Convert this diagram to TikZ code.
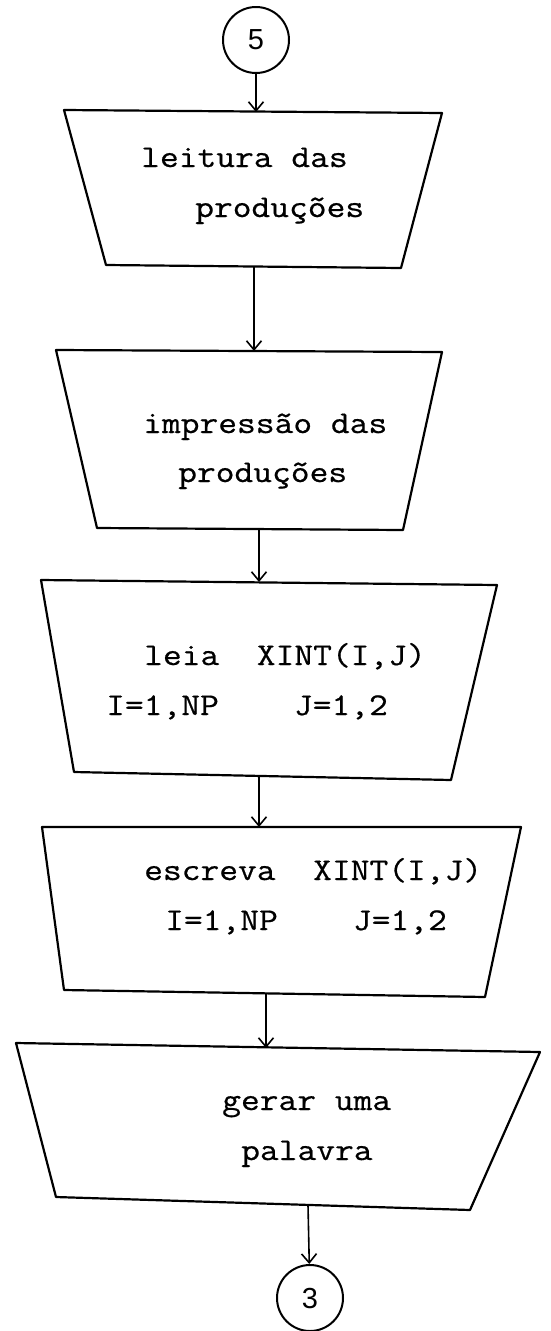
\documentclass[tikz,border=0pt]{standalone}
\usepackage{fontspec}
\setmonofont[FakeStretch=1.15,FakeBold=0.6]{Latin Modern Mono}
\newfontfamily\digitfont{Liberation Sans}
\usetikzlibrary{arrows.meta}
\begin{document}
\begin{tikzpicture}[x=1pt,y=-1pt,
  box/.style={line width=2.2pt, line join=round},
  conn/.style={line width=1.6pt, -{Straight Barb[length=9pt,width=15pt]}},
  txt/.style={anchor=base west, inner sep=0pt, font=\ttfamily\fontsize{31.7}{38}\selectfont},
  connector/.style={circle, draw, line width=2pt, minimum size=66pt, inner sep=0pt,
    font=\digitfont\fontsize{29}{30}\selectfont}]
\useasboundingbox (0,0) rectangle (551,1331);

% entry connector
\node[connector] (c5) at (256,40) {5};

% reading of productions
\coordinate (b1tl) at (64,110);  \coordinate (b1tr) at (442,113);
\coordinate (b1br) at (401,268); \coordinate (b1bl) at (106,265);
\draw[box] (b1tl) -- (b1tr) -- (b1br) -- (b1bl) -- cycle;
\node[txt] (t1a) at (141,167) {leitura das};
\node[txt] (t1b) at (195,217) {produções};
\coordinate (b1in) at (256,112);
\coordinate (b1out) at (254,267);

% printing of productions
\coordinate (b2tl) at (56,350);  \coordinate (b2tr) at (442,352);
\coordinate (b2br) at (403,530); \coordinate (b2bl) at (97,528);
\draw[box] (b2tl) -- (b2tr) -- (b2br) -- (b2bl) -- cycle;
\node[txt] (t2a) at (143,433) {impressão das};
\node[txt] (t2b) at (178,482) {produções};
\coordinate (b2in) at (254,351);
\coordinate (b2out) at (259,529);

% read XINT
\coordinate (b3tl) at (41,580);  \coordinate (b3tr) at (497,585);
\coordinate (b3br) at (451,780); \coordinate (b3bl) at (74,772);
\draw[box] (b3tl) -- (b3tr) -- (b3br) -- (b3bl) -- cycle;
\node[txt] (t3a) at (144,665) {leia~~XINT(I,J)};
\node[txt] (t3b) at (106,715) {I=1,NP~~~~J=1,2};
\coordinate (b3in) at (259,582);
\coordinate (b3out) at (259,776);

% write XINT
\coordinate (b4tl) at (42,827);  \coordinate (b4tr) at (521,827);
\coordinate (b4br) at (485,997); \coordinate (b4bl) at (64,990);
\draw[box] (b4tl) -- (b4tr) -- (b4br) -- (b4bl) -- cycle;
\node[txt] (t4a) at (144,880) {escreva~~XINT(I,J)};
\node[txt] (t4b) at (165,930) {I=1,NP~~~~J=1,2};
\coordinate (b4in) at (259,827);
\coordinate (b4out) at (266,994);

% generate a word
\coordinate (b5tl) at (16,1043);  \coordinate (b5tr) at (540,1052);
\coordinate (b5br) at (470,1210); \coordinate (b5bl) at (56,1197);
\draw[box] (b5tl) -- (b5tr) -- (b5br) -- (b5bl) -- cycle;
\node[txt] (t5a) at (222,1110) {gerar uma};
\node[txt] (t5b) at (241,1160) {palavra};
\coordinate (b5in) at (266,1048);
\coordinate (b5out) at (308,1205);

% exit connector
\node[connector] (c3) at (310,1298) {3};

% flow
\draw[conn] (c5) -- (b1in);
\draw[conn] (b1out) -- (b2in);
\draw[conn] (b2out) -- (b3in);
\draw[conn] (b3out) -- (b4in);
\draw[conn] (b4out) -- (b5in);
\draw[conn] (b5out) -- (c3);
\end{tikzpicture}
\end{document}
